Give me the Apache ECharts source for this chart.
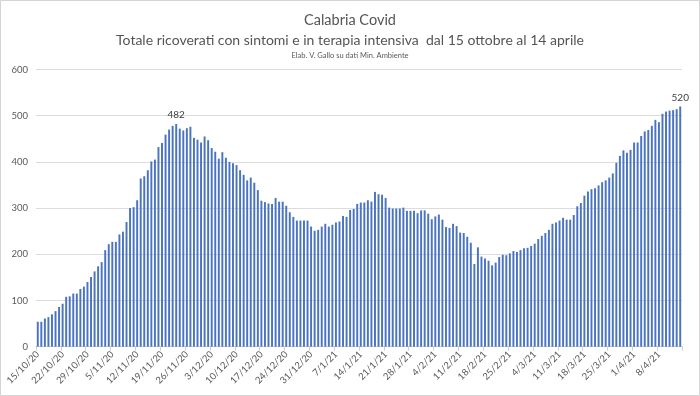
<!DOCTYPE html>
<html>
<head>
<meta charset="utf-8">
<script src="https://cdn.jsdelivr.net/npm/echarts@6/dist/echarts.min.js"></script>
<style>
html,body{margin:0;padding:0;background:#fff;}
#chart{width:700px;height:396px;}
</style>
</head>
<body>
<div id="chart"></div>
<script>
// Data: daily hospitalised (ordinary + ICU), Calabria, 15/10/2020 -> 14/04/2021
const startDate = [2020, 9, 15]; // 15 Oct 2020 (month 0-based)
const dayCount = 182;
const values = [
  54, 54, 61, 64, 70, 77, 86, 93, 108, 109,
  115, 115, 125, 130, 140, 151, 163, 174, 183, 209,
  222, 227, 227, 243, 249, 270, 300, 302, 317, 364,
  369, 382, 401, 405, 432, 441, 459, 470, 478, 482,
  472, 468, 473, 476, 452, 448, 442, 455, 447, 430,
  422, 407, 421, 409, 400, 397, 393, 382, 372, 360,
  366, 355, 339, 316, 313, 310, 309, 322, 314, 314,
  305, 291, 281, 273, 273, 273, 273, 260, 251, 253,
  260, 266, 260, 264, 269, 271, 283, 281, 296, 298,
  309, 312, 312, 317, 314, 335, 330, 329, 322, 301,
  299, 299, 299, 301, 294, 294, 294, 289, 295, 295,
  288, 276, 282, 286, 275, 259, 257, 266, 261, 247,
  246, 238, 225, 179, 215, 195, 191, 186, 176, 182,
  194, 199, 198, 202, 207, 205, 209, 213, 214, 218,
  223, 233, 240, 246, 253, 266, 269, 273, 279, 275,
  275, 285, 304, 311, 327, 336, 341, 343, 349, 356,
  360, 366, 375, 398, 413, 425, 420, 426, 442, 442,
  456, 466, 469, 478, 491, 486, 504, 509, 511, 512,
  514, 520
];
const labelledIdx = [39, 181]; // bars carrying a value label (482, 520)
const yTicks = [0, 100, 200, 300, 400, 500, 600];
const titleText = 'Calabria Covid';
const subtitleText = 'Totale ricoverati con sintomi e in terapia intensiva  dal 15 ottobre al 14 aprile';
const creditText = 'Elab. V. Gallo su dati Min. Ambiente';

const categories = [];
for (let i = 0; i < dayCount; i++) {
  const d = new Date(startDate[0], startDate[1], startDate[2] + i);
  categories.push(d.getDate() + '/' + (d.getMonth() + 1) + '/' + String(d.getFullYear()).slice(2));
}

const seriesData = values.map((v, i) => labelledIdx.indexOf(i) >= 0
  ? {value: v, label: {show: true, position: 'top', distance: 4, color: '#404040', fontSize: 10, fontFamily: 'Lato'}}
  : v);

const chart = echarts.init(document.getElementById('chart'), null, {renderer: 'canvas'});
chart.setOption({
  animation: false,
  backgroundColor: '#ffffff',
  graphic: [{
    type: 'rect', silent: true,
    shape: {x: 0.5, y: 0.5, width: 699, height: 395},
    style: {fill: 'none', stroke: '#d4d4d4', lineWidth: 1}
  }],
  title: [
    {text: titleText, left: 'center', top: 8,
     textStyle: {fontFamily: 'Lato', fontSize: 14.5, fontWeight: 'normal', color: '#555555'}},
    {text: subtitleText, left: 'center', top: 28,
     textStyle: {fontFamily: 'Lato', fontSize: 14, fontWeight: 'normal', color: '#555555'}},
    {text: creditText, left: 'center', top: 47,
     textStyle: {fontFamily: 'Lato', fontSize: 7.5, fontWeight: 'normal', color: '#595959'}}
  ],
  grid: {left: 36, right: 18, top: 69.5, bottom: 49.3, containLabel: false},
  xAxis: {
    type: 'category',
    data: categories,
    boundaryGap: true,
    axisLine: {lineStyle: {color: '#d0d0d0'}},
    axisTick: {show: true, interval: 6, length: 4, lineStyle: {color: '#d0d0d0'}},
    axisLabel: {interval: 6, rotate: 45, fontSize: 9.5, color: '#595959', fontFamily: 'Lato', margin: 6}
  },
  yAxis: {
    type: 'value',
    min: yTicks[0], max: yTicks[yTicks.length - 1], interval: 100,
    axisLine: {show: false},
    axisTick: {show: false},
    splitLine: {lineStyle: {color: '#dcdcdc'}},
    axisLabel: {fontSize: 9.5, color: '#595959', fontFamily: 'Lato', margin: 8}
  },
  series: [{
    type: 'bar',
    data: seriesData,
    barWidth: '55%',
    itemStyle: {color: '#4a74c2'}
  }]
});
</script>
</body>
</html>
